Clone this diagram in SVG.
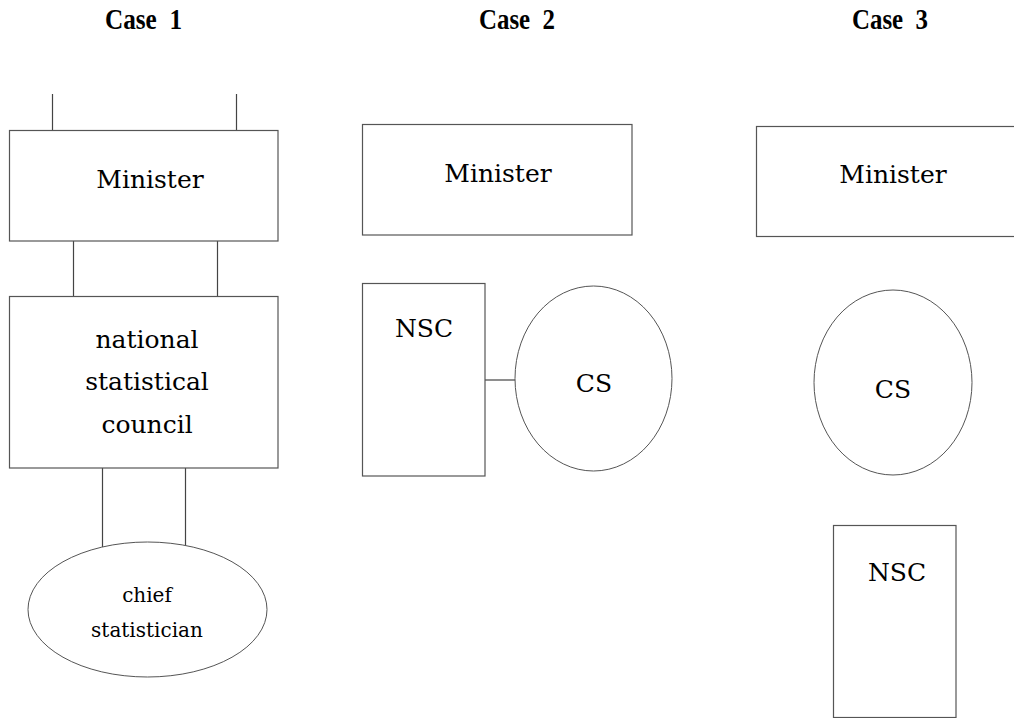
<svg xmlns="http://www.w3.org/2000/svg" width="1014" height="718" viewBox="0 0 1014 718">
<style>
.box{fill:#fff;stroke:#555;stroke-width:1.2}
.oval{fill:#fff;stroke:#555;stroke-width:1}
.ln{stroke:#444;stroke-width:1.2;fill:none}
.t{font-family:"DejaVu Serif","Liberation Serif",serif;font-size:25px;fill:#000;text-anchor:middle}
.ts{font-family:"DejaVu Serif","Liberation Serif",serif;font-size:20px;fill:#000;text-anchor:middle}
.h{font-family:"Liberation Serif","Times New Roman",serif;font-weight:bold;font-size:29px;fill:#000}
</style>
<rect width="1014" height="718" fill="#fff"/>
<g id="titles">
<text class="h" x="105" y="29" textLength="77" lengthAdjust="spacingAndGlyphs" xml:space="preserve">Case  1</text>
<text class="h" x="479" y="29" textLength="76" lengthAdjust="spacingAndGlyphs" xml:space="preserve">Case  2</text>
<text class="h" x="852" y="29" textLength="76" lengthAdjust="spacingAndGlyphs" xml:space="preserve">Case  3</text>
</g>
<g id="connectors">
<line class="ln" x1="52.5" y1="94" x2="52.5" y2="133"/>
<line class="ln" x1="236.5" y1="94" x2="236.5" y2="133"/>
<line class="ln" x1="73.5" y1="241" x2="73.5" y2="296"/>
<line class="ln" x1="217.5" y1="240" x2="217.5" y2="296"/>
<line class="ln" x1="102.5" y1="468" x2="102.5" y2="547"/>
<line class="ln" x1="185.5" y1="468" x2="185.5" y2="547"/>
<line class="ln" x1="485" y1="380" x2="515" y2="380"/>
</g>
<g id="c1-minister">
<rect class="box" x="9.5" y="130.5" width="268.5" height="110.5"/>
<text class="t" x="150" y="188">Minister</text>
</g>
<g id="c1-nsc">
<rect class="box" x="9.5" y="296.5" width="268.5" height="171.5"/>
<text class="t" x="147" y="348">national</text>
<text class="t" x="147" y="390">statistical</text>
<text class="t" x="147" y="433">council</text>
</g>
<g id="c1-cs">
<ellipse class="oval" cx="147.5" cy="609.5" rx="119.5" ry="67.5"/>
<text class="ts" x="147" y="602">chief</text>
<text class="ts" x="147" y="637">statistician</text>
</g>
<g id="c2-minister">
<rect class="box" x="362.5" y="124.5" width="269.5" height="110.5"/>
<text class="t" x="498" y="182">Minister</text>
</g>
<g id="c2-nsc">
<rect class="box" x="362.5" y="283.5" width="122.5" height="192.5"/>
<text class="t" x="424" y="337">NSC</text>
</g>
<g id="c2-cs">
<ellipse class="oval" cx="593.5" cy="378.5" rx="78.5" ry="92.5"/>
<text class="t" x="594" y="392">CS</text>
</g>
<g id="c3-minister">
<rect class="box" x="756.5" y="126.5" width="280" height="110"/>
<text class="t" x="893" y="183">Minister</text>
</g>
<g id="c3-cs">
<ellipse class="oval" cx="893" cy="382.5" rx="79" ry="92.5"/>
<text class="t" x="893" y="398">CS</text>
</g>
<g id="c3-nsc">
<rect class="box" x="833.5" y="525.5" width="122.5" height="192"/>
<text class="t" x="897" y="581">NSC</text>
</g>
</svg>
